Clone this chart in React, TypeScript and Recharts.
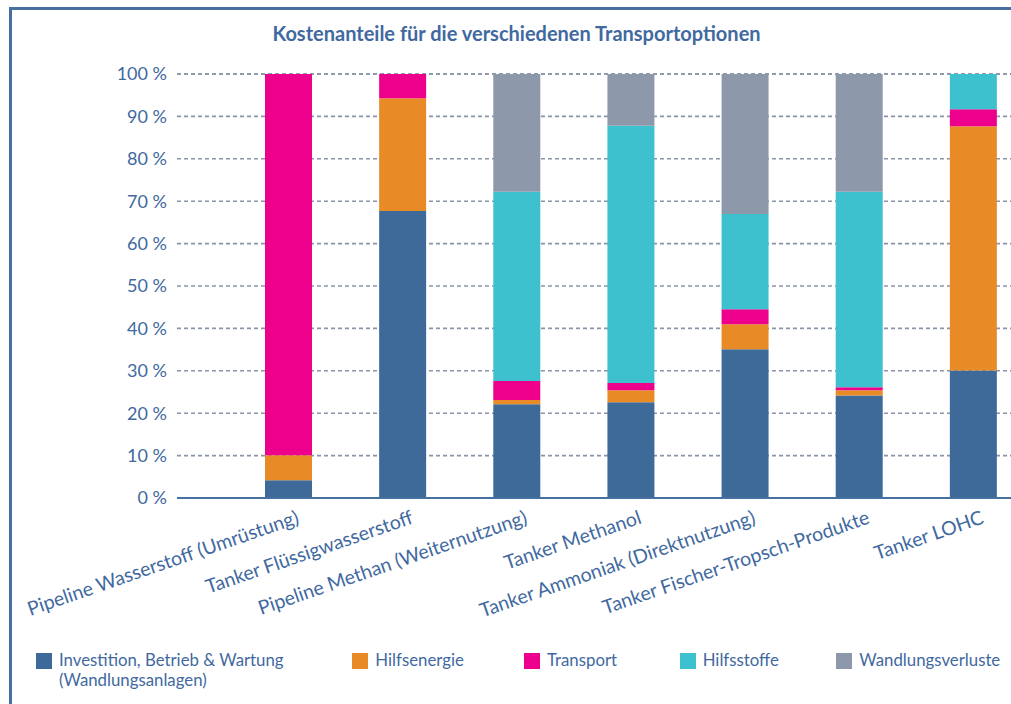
import { BarChart, Bar, XAxis, YAxis, CartesianGrid, Legend } from 'recharts';

const categories = [
  'Pipeline Wasserstoff (Umrüstung)',
  'Tanker Flüssigwasserstoff',
  'Pipeline Methan (Weiternutzung)',
  'Tanker Methanol',
  'Tanker Ammoniak (Direktnutzung)',
  'Tanker Fischer-Tropsch-Produkte',
  'Tanker LOHC',
];

// Anteile in %
const investition = [4.2, 67.7, 22.1, 22.6, 35.1, 24.2, 30.1];
const hilfsenergie = [5.9, 26.6, 1.0, 2.8, 5.9, 1.2, 57.6];
const transport = [89.9, 5.7, 4.5, 1.7, 3.5, 0.7, 4.0];
const hilfsstoffe = [0, 0, 44.6, 60.7, 22.5, 46.1, 8.3];
const wandlungsverluste = [0, 0, 27.8, 12.2, 33.0, 27.8, 0];

const seriesNames = [
  'Investition, Betrieb & Wartung\n(Wandlungsanlagen)',
  'Hilfsenergie',
  'Transport',
  'Hilfsstoffe',
  'Wandlungsverluste',
];

const yTicks = [0, 10, 20, 30, 40, 50, 60, 70, 80, 90, 100];

const data = categories.map((name, i) => ({
  name,
  investition: investition[i],
  hilfsenergie: hilfsenergie[i],
  transport: transport[i],
  hilfsstoffe: hilfsstoffe[i],
  wandlungsverluste: wandlungsverluste[i],
}));

const TEXT = '#4169a0';
const FONT = 'Lato, "Open Sans", sans-serif';

const legendWidths = [317, 172, 156, 157, 175];

function CategoryTick(props: any) {
  const { x, y, payload } = props;
  const ax = x + 12;
  const ay = y + 23;
  return (
    <text
      x={ax}
      y={ay}
      textAnchor="end"
      fill={TEXT}
      fontSize={19.5}
      fontFamily={FONT}
      transform={`rotate(-19, ${ax}, ${ay})`}
    >
      {payload.value}
    </text>
  );
}

function LegendContent(props: any) {
  const items = [...(props.payload || [])].sort(
    (a: any, b: any) => seriesNames.indexOf(a.value) - seriesNames.indexOf(b.value)
  );
  return (
    <div style={{ display: 'flex', paddingLeft: 36, fontFamily: FONT, fontSize: 16.8, color: TEXT }}>
      {items.map((p: any, i: number) => (
        <div key={p.value} style={{ display: 'flex', width: legendWidths[i], alignItems: 'flex-start' }}>
          <span style={{ width: 16, height: 16, background: p.color, marginTop: 3, flexShrink: 0 }} />
          <span style={{ marginLeft: 7, lineHeight: '20px', whiteSpace: 'pre-line' }}>{p.value}</span>
        </div>
      ))}
    </div>
  );
}

export default function App() {
  return (
    <div style={{ position: 'absolute', left: 0, top: 0, width: 1011, height: 704, overflow: 'hidden', background: '#fff' }}>
      <div
        style={{
          position: 'absolute',
          left: 9,
          top: 7,
          width: 1100,
          height: 800,
          borderTop: '3px solid #46709f',
          borderLeft: '3px solid #46709f',
        }}
      />
      <div
        style={{
          position: 'absolute',
          left: 0,
          top: 21,
          width: 1033,
          textAlign: 'center',
          fontFamily: FONT,
          fontWeight: 700,
          fontSize: 20,
          lineHeight: '24px',
          color: TEXT,
        }}
      >
        Kostenanteile für die verschiedenen Transportoptionen
      </div>
      <div style={{ position: 'absolute', left: 0, top: 0 }}>
        <BarChart width={1030} height={704} data={data} margin={{ top: 74, right: 0, bottom: 0, left: 0 }} barSize={47}>
          <CartesianGrid vertical={false} stroke="#8a94a8" strokeWidth={1.6} strokeDasharray="4 3" />
          <XAxis
            dataKey="name"
            interval={0}
            height={152}
            padding={{ left: 54, right: 0 }}
            tickLine={false}
            tickSize={0}
            axisLine={{ stroke: '#46709f', strokeWidth: 2 }}
            tick={<CategoryTick />}
          />
          <YAxis
            width={177}
            domain={[0, 100]}
            ticks={yTicks}
            axisLine={false}
            tickLine={false}
            tickSize={0}
            tickMargin={10}
            tickFormatter={(v: number) => `${v} %`}
            tick={{ fill: TEXT, fontSize: 18, fontFamily: FONT }}
          />
          <Legend
            verticalAlign="bottom"
            content={<LegendContent />}
            wrapperStyle={{ left: 0, width: 1011, height: 54 }}
          />
          <Bar dataKey="investition" name={seriesNames[0]} stackId="a" fill="#3e6a9a" isAnimationActive={false} />
          <Bar dataKey="hilfsenergie" name={seriesNames[1]} stackId="a" fill="#e88a26" isAnimationActive={false} />
          <Bar dataKey="transport" name={seriesNames[2]} stackId="a" fill="#ec008c" isAnimationActive={false} />
          <Bar dataKey="hilfsstoffe" name={seriesNames[3]} stackId="a" fill="#3ec1cf" isAnimationActive={false} />
          <Bar dataKey="wandlungsverluste" name={seriesNames[4]} stackId="a" fill="#8e98ab" isAnimationActive={false} />
        </BarChart>
      </div>
    </div>
  );
}
